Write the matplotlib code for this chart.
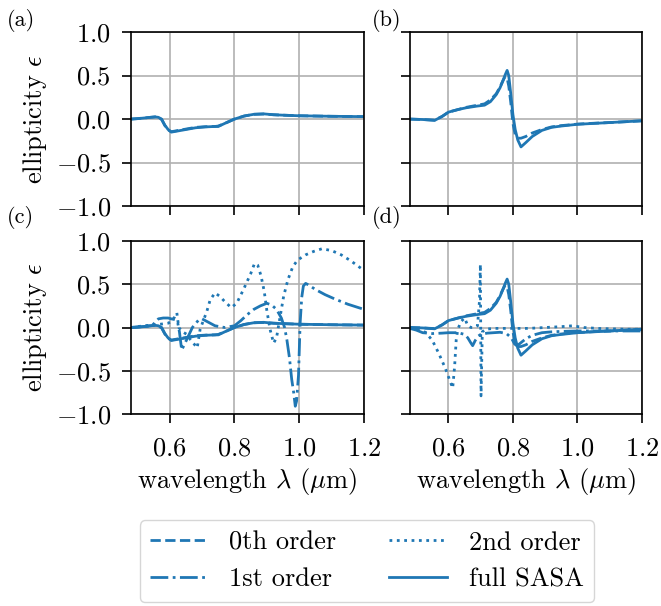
import matplotlib
matplotlib.use("Agg")
import matplotlib.pyplot as plt

plt.rcParams['font.family'] = ['cmr10', 'DejaVu Serif']
plt.rcParams['mathtext.fontset'] = 'cm'
plt.rcParams['axes.formatter.use_mathtext'] = True
plt.rcParams['font.size'] = 19

# panel (a) / (c): first structure
lam_a = [0.48, 0.50, 0.52, 0.54, 0.555, 0.565, 0.575, 0.585, 0.595, 0.605, 0.62, 0.65, 0.68,
         0.71, 0.74, 0.75, 0.77, 0.80, 0.83, 0.86, 0.89, 0.92, 0.95, 1.00, 1.05, 1.10, 1.15, 1.20]
full_a = [0.0, 0.005, 0.012, 0.02, 0.025, 0.02, 0.0, -0.07, -0.12, -0.15, -0.14, -0.12, -0.10,
          -0.09, -0.085, -0.085, -0.05, 0.0, 0.035, 0.055, 0.06, 0.05, 0.045, 0.038, 0.035, 0.032, 0.03, 0.028]
zeroth_a = [0.0, 0.005, 0.012, 0.02, 0.025, 0.018, -0.005, -0.075, -0.125, -0.145, -0.135, -0.115, -0.095,
            -0.088, -0.085, -0.08, -0.05, 0.0, 0.035, 0.055, 0.058, 0.05, 0.045, 0.038, 0.035, 0.032, 0.03, 0.028]

lam_c1 = [0.48, 0.52, 0.545, 0.555, 0.565, 0.58, 0.595, 0.605, 0.618, 0.625, 0.630, 0.637, 0.645, 0.655,
          0.67, 0.69, 0.70, 0.72, 0.74, 0.77, 0.80, 0.82, 0.84, 0.86, 0.88, 0.90, 0.915, 0.93, 0.945,
          0.955, 0.962, 0.97, 0.977, 0.983, 0.988, 0.992, 0.998, 1.003, 1.008, 1.013, 1.02, 1.03,
          1.05, 1.08, 1.11, 1.15, 1.20]
first_c = [0.0, 0.01, 0.02, 0.06, 0.10, 0.11, 0.11, 0.10, 0.09, 0.05, -0.05, -0.26, -0.2, -0.12,
           0.0, 0.09, 0.10, 0.06, 0.02, 0.0, 0.02, 0.08, 0.15, 0.21, 0.25, 0.28, 0.26, 0.21, 0.11,
           0.0, -0.14, -0.35, -0.6, -0.75, -0.91, -0.85, -0.55, 0.05, 0.35, 0.48, 0.51, 0.49,
           0.44, 0.38, 0.33, 0.27, 0.21]

lam_c2 = [0.48, 0.52, 0.55, 0.575, 0.595, 0.605, 0.615, 0.622, 0.628, 0.64, 0.653, 0.664, 0.685,
          0.694, 0.705, 0.715, 0.725, 0.74, 0.755, 0.77, 0.79, 0.807, 0.828, 0.85, 0.862, 0.872,
          0.882, 0.892, 0.90, 0.91, 0.921, 0.93, 0.94, 0.952, 0.965, 0.98, 0.995, 1.02, 1.045,
          1.07, 1.10, 1.13, 1.16, 1.20]
second_c = [0.0, 0.02, 0.03, 0.04, 0.05, 0.07, 0.12, 0.17, 0.0, -0.05, -0.08, -0.14, -0.235,
            -0.02, 0.09, 0.19, 0.32, 0.40, 0.36, 0.30, 0.23, 0.28, 0.44, 0.62, 0.74, 0.72,
            0.60, 0.42, 0.20, -0.02, -0.18, -0.12, 0.10, 0.36, 0.55, 0.70, 0.78, 0.84, 0.88,
            0.91, 0.89, 0.84, 0.77, 0.66]

# panel (b) / (d): second structure
lam_b = [0.48, 0.52, 0.557, 0.58, 0.60, 0.63, 0.655, 0.69, 0.712, 0.73, 0.748, 0.76, 0.77, 0.776,
         0.782, 0.787, 0.793, 0.80, 0.807, 0.815, 0.825, 0.84, 0.86, 0.89, 0.92, 0.95, 1.0, 1.05,
         1.1, 1.15, 1.2]
full_b = [0.0, -0.005, -0.015, 0.03, 0.08, 0.11, 0.13, 0.15, 0.16, 0.2, 0.28, 0.36, 0.45, 0.51,
          0.56, 0.50, 0.30, 0.05, -0.12, -0.24, -0.32, -0.27, -0.2, -0.13, -0.095, -0.08, -0.06,
          -0.05, -0.04, -0.03, -0.02]
zeroth_b = [0.0, -0.005, -0.012, 0.03, 0.08, 0.11, 0.135, 0.16, 0.175, 0.22, 0.29, 0.37, 0.45, 0.49,
            0.47, 0.38, 0.2, -0.05, -0.18, -0.22, -0.22, -0.2, -0.16, -0.12, -0.09, -0.075, -0.058,
            -0.048, -0.04, -0.03, -0.02]

lam_d1 = [0.48, 0.50, 0.52, 0.55, 0.58, 0.60, 0.63, 0.65, 0.66, 0.668, 0.675, 0.683, 0.692, 0.70,
          0.72, 0.74, 0.76, 0.78, 0.795, 0.805, 0.812, 0.82, 0.84, 0.86, 0.89, 0.92, 0.95, 1.0,
          1.05, 1.1, 1.15, 1.2]
first_d = [-0.01, -0.03, -0.06, -0.07, -0.065, -0.06, -0.06, -0.08, -0.12, -0.17, -0.21, -0.15,
           -0.1, -0.08, -0.065, -0.06, -0.055, -0.07, -0.12, -0.19, -0.21, -0.19, -0.13, -0.09,
           -0.06, -0.05, -0.045, -0.04, -0.04, -0.04, -0.04, -0.04]

lam_d2 = [0.48, 0.51, 0.53, 0.55, 0.57, 0.59, 0.605, 0.613, 0.619, 0.624, 0.629, 0.639, 0.65,
          0.66, 0.67, 0.68, 0.69, 0.696, 0.699, 0.701, 0.705, 0.715, 0.74, 0.77, 0.80, 0.85,
          0.9, 0.95, 0.985, 1.02, 1.06, 1.1, 1.15, 1.2]
second_d = [0.0, -0.02, -0.06, -0.15, -0.3, -0.47, -0.62, -0.70, -0.45, -0.14, -0.02, 0.07, 0.11,
            0.02, 0.0, 0.0, 0.02, 0.3, 0.73, -0.79, -0.05, -0.02, -0.01, -0.01, -0.01, -0.01,
            0.0, 0.01, 0.02, 0.0, -0.01, -0.015, -0.02, -0.02]

xticks = [0.6, 0.8, 1.0, 1.2]
yticks = [-1.0, -0.5, 0.0, 0.5, 1.0]

fig = plt.figure(figsize=(6.61, 6.06), dpi=100)

ax_a = fig.add_axes([0.198, 0.660, 0.3525, 0.287])
ax_b = fig.add_axes([0.620, 0.660, 0.351, 0.287])
ax_c = fig.add_axes([0.198, 0.3168, 0.3525, 0.2855])
ax_d = fig.add_axes([0.620, 0.3168, 0.351, 0.2855])

c = '#1f77b4'
lw = 2

ax_a.plot(lam_a, zeroth_a, '--', color=c, lw=lw)
ax_a.plot(lam_a, full_a, '-', color=c, lw=lw)

ax_b.plot(lam_b, zeroth_b, '--', color=c, lw=lw)
ax_b.plot(lam_b, full_b, '-', color=c, lw=lw)

l0, = ax_c.plot(lam_a, zeroth_a, '--', color=c, lw=lw, label='0th order')
l1, = ax_c.plot(lam_c1, first_c, '-.', color=c, lw=lw, label='1st order')
l2, = ax_c.plot(lam_c2, second_c, ':', color=c, lw=lw, label='2nd order')
l3, = ax_c.plot(lam_a, full_a, '-', color=c, lw=lw, label='full SASA')

ax_d.plot(lam_b, zeroth_b, '--', color=c, lw=lw)
ax_d.plot(lam_d1, first_d, '-.', color=c, lw=lw)
ax_d.plot(lam_d2, second_d, ':', color=c, lw=lw)
ax_d.plot(lam_b, full_b, '-', color=c, lw=lw)

for ax in [ax_a, ax_b, ax_c, ax_d]:
    ax.set_xlim(0.48, 1.2)
    ax.set_ylim(-1.0, 1.0)
    ax.set_xticks(xticks)
    ax.set_yticks(yticks)
    ax.grid(True, color='#b0b0b0', lw=1.2)
    ax.set_axisbelow(True)
    ax.tick_params(length=6.5, width=1.2)
    ax.tick_params(axis='y', pad=8)
    ax.tick_params(axis='x', pad=10)
    for s in ax.spines.values():
        s.set_linewidth(1.2)

for ax in [ax_a, ax_b]:
    ax.set_xticklabels([])
for ax in [ax_b, ax_d]:
    ax.set_yticklabels([])

ax_a.set_ylabel(r'ellipticity $\epsilon$', labelpad=5)
ax_c.set_ylabel(r'ellipticity $\epsilon$', labelpad=5)
ax_c.set_xlabel(r'wavelength $\lambda$ ($\mu$m)', labelpad=4)
ax_d.set_xlabel(r'wavelength $\lambda$ ($\mu$m)', labelpad=4)

fig.text(0.010, 0.985, '(a)', fontsize=16, va='top')
fig.text(0.562, 0.985, '(b)', fontsize=16, va='top')
fig.text(0.010, 0.66, '(c)', fontsize=16, va='top')
fig.text(0.562, 0.66, '(d)', fontsize=16, va='top')

fig.legend([l0, l1, l2, l3], ['0th order', '1st order', '2nd order', 'full SASA'],
           ncol=2, loc='center', bbox_to_anchor=(0.555, 0.074), columnspacing=2.0,
           handlelength=2.2, edgecolor='#cccccc')

fig.savefig('out.png', dpi=100)
